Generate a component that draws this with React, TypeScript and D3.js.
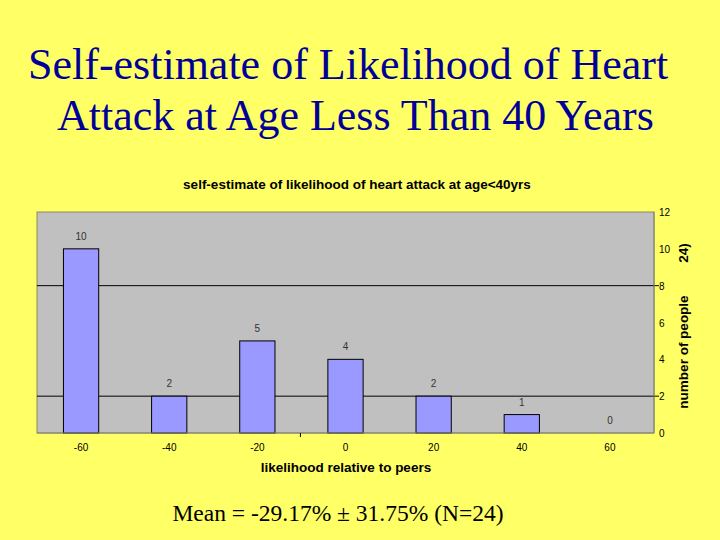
import * as d3 from "d3";
import { useEffect, useRef } from "react";

const categories = ["-60", "-40", "-20", "0", "20", "40", "60"];
const counts = [10, 2, 5, 4, 2, 1, 0];
const yTicks = [0, 2, 4, 6, 8, 10, 12];
const gridValues = [2, 8];

const W = 720;
const H = 540;

export default function App() {
  const ref = useRef<SVGSVGElement | null>(null);

  useEffect(() => {
    if (!ref.current) return;
    document.body.style.margin = "0";

    const plot = { left: 37, right: 654, top: 212, bottom: 433 };

    const x = d3.scaleBand<string>().domain(categories).range([plot.left, plot.right]).paddingInner(0.6).paddingOuter(0.3);
    const y = d3.scaleLinear().domain([0, 12]).range([plot.bottom, plot.top]);

    const svg = d3.select(ref.current);
    svg.selectAll("*").remove();

    svg.append("rect").attr("width", W).attr("height", H).attr("fill", "#ffff66");

    // slide title
    const title = svg.append("text")
      .style("font-family", "'Liberation Serif', 'Times New Roman', serif")
      .style("font-size", "44px")
      .attr("fill", "#000099");
    title.append("tspan").attr("x", 28).attr("y", 79).text("Self-estimate of Likelihood of Heart");
    title.append("tspan").attr("x", 57).attr("y", 130).text("Attack at Age Less Than 40 Years");

    // chart title
    svg.append("text")
      .attr("x", 357).attr("y", 189)
      .attr("text-anchor", "middle")
      .style("font-family", "'Liberation Sans', Arial, sans-serif")
      .style("font-size", "13.5px").style("font-weight", "bold")
      .text("self-estimate of likelihood of heart attack at age<40yrs");

    // plot area
    svg.append("rect")
      .attr("x", plot.left).attr("y", plot.top)
      .attr("width", plot.right - plot.left).attr("height", plot.bottom - plot.top)
      .attr("fill", "#c0c0c0").attr("stroke", "#8a8a60").attr("stroke-width", 1);

    svg.append("g").selectAll("line").data(gridValues).join("line")
      .attr("x1", plot.left).attr("x2", plot.right + 5)
      .attr("y1", (d) => y(d)).attr("y2", (d) => y(d))
      .attr("stroke", "#000").attr("stroke-width", 1);

    // bars
    svg.append("g").selectAll("rect").data(counts).join("rect")
      .attr("x", (_, i) => x(categories[i]) as number)
      .attr("width", x.bandwidth())
      .attr("y", (d) => y(d))
      .attr("height", (d) => plot.bottom - y(d))
      .attr("fill", "#9999ff")
      .attr("stroke", "#000").attr("stroke-width", (d) => (d > 0 ? 1 : 0));

    // data labels
    svg.append("g").selectAll("text").data(counts).join("text")
      .attr("x", (_, i) => (x(categories[i]) as number) + x.bandwidth() / 2)
      .attr("y", (d) => y(d) - 9)
      .attr("text-anchor", "middle")
      .style("font-family", "'Liberation Sans', Arial, sans-serif")
      .style("font-size", "10px")
      .attr("fill", "#333")
      .text((d) => d);

    // x axis
    svg.append("line")
      .attr("x1", plot.left).attr("x2", plot.right)
      .attr("y1", plot.bottom).attr("y2", plot.bottom)
      .attr("stroke", "#808080");
    const step = x.step();
    svg.append("line")
      .attr("x1", plot.left + step * 3 - 1).attr("x2", plot.left + step * 3 - 1)
      .attr("y1", plot.bottom).attr("y2", plot.bottom + 4)
      .attr("stroke", "#000");

    svg.append("g").selectAll("text").data(categories).join("text")
      .attr("x", (d) => (x(d) as number) + x.bandwidth() / 2)
      .attr("y", plot.bottom + 18)
      .attr("text-anchor", "middle")
      .style("font-family", "'Liberation Sans', Arial, sans-serif")
      .style("font-size", "10px")
      .text((d) => d);

    svg.append("text")
      .attr("x", 346).attr("y", 472)
      .attr("text-anchor", "middle")
      .style("font-family", "'Liberation Sans', Arial, sans-serif")
      .style("font-size", "13.5px").style("font-weight", "bold")
      .text("likelihood relative to peers");

    // y axis on the right
    svg.append("line")
      .attr("x1", plot.right).attr("x2", plot.right)
      .attr("y1", plot.top).attr("y2", plot.bottom)
      .attr("stroke", "#808080");
    svg.append("g").selectAll("text").data(yTicks).join("text")
      .attr("x", plot.right + 5)
      .attr("y", (d) => y(d) + 4)
      .style("font-family", "'Liberation Sans', Arial, sans-serif")
      .style("font-size", "10px")
      .text((d) => d);

    const yl = svg.append("g")
      .style("font-family", "'Liberation Sans', Arial, sans-serif")
      .style("font-size", "13.5px").style("font-weight", "bold");
    yl.append("text")
      .attr("transform", `translate(688, 352) rotate(-90)`)
      .attr("text-anchor", "middle")
      .text("number of people");
    yl.append("text")
      .attr("transform", `translate(688, 253) rotate(-90)`)
      .attr("text-anchor", "middle")
      .text("24)");

    // bottom note
    svg.append("text")
      .attr("x", 338).attr("y", 521)
      .attr("text-anchor", "middle")
      .style("font-family", "'Liberation Serif', 'Times New Roman', serif")
      .style("font-size", "23.5px")
      .text("Mean = -29.17% \u00b1 31.75% (N=24)");
  }, []);

  return <svg ref={ref} width={W} height={H} style={{ display: "block" }} />;
}
